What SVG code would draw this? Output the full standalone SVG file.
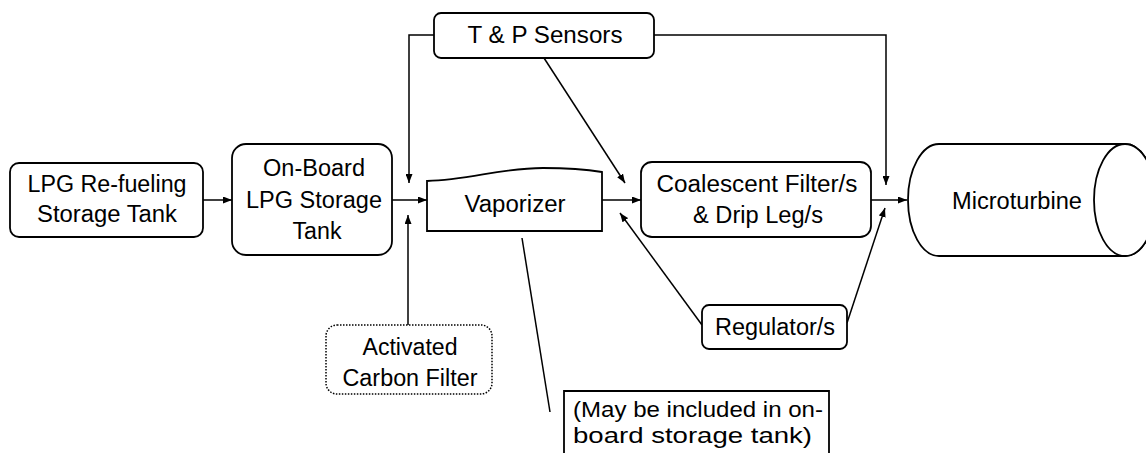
<svg xmlns="http://www.w3.org/2000/svg" width="1146" height="453" viewBox="0 0 1146 453">
<style>
.box{fill:#fff;stroke:#000;stroke-width:1.8}
.dot{fill:#fff;stroke:#000;stroke-width:1.5;stroke-dasharray:1.5 1.5}
.t{font-family:"Liberation Sans",Arial,sans-serif;font-size:23px;fill:#000;text-anchor:middle}
.tl{font-family:"Liberation Sans",Arial,sans-serif;font-size:22px;fill:#000}
.c{fill:none;stroke:#000;stroke-width:1.5}
</style>
<defs>
<marker id="ah" markerWidth="9" markerHeight="7" refX="9" refY="3.5" orient="auto" markerUnits="userSpaceOnUse">
<path d="M0,0 L9,3.5 L0,7 Z" fill="#000"/>
</marker>
</defs>
<rect width="1146" height="453" fill="#fff"/>
<g id="connectors">
<line class="c" x1="203" y1="200" x2="232" y2="200" marker-end="url(#ah)"/>
<line class="c" x1="392" y1="200" x2="427" y2="200" marker-end="url(#ah)"/>
<polyline class="c" points="434,35 409,35 409,183" marker-end="url(#ah)"/>
<line class="c" x1="408" y1="325" x2="408" y2="215" marker-end="url(#ah)"/>
<line class="c" x1="602" y1="200" x2="641" y2="200" marker-end="url(#ah)"/>
<line class="c" x1="544" y1="58" x2="625" y2="183" marker-end="url(#ah)"/>
<line class="c" x1="702" y1="325" x2="620" y2="213" marker-end="url(#ah)"/>
<line class="c" x1="871" y1="200" x2="907" y2="200" marker-end="url(#ah)"/>
<polyline class="c" points="654,35 886,35 886,185" marker-end="url(#ah)"/>
<line class="c" x1="847" y1="323" x2="885" y2="208" marker-end="url(#ah)"/>
<line class="c" x1="522" y1="238" x2="550" y2="412"/>
</g>
<g id="refuel">
<rect class="box" x="10" y="163" width="193" height="74" rx="9"/>
<text class="t" x="107" y="192" textLength="159" lengthAdjust="spacingAndGlyphs">LPG Re-fueling</text>
<text class="t" x="107" y="222" textLength="140" lengthAdjust="spacingAndGlyphs">Storage Tank</text>
</g>
<g id="onboard">
<rect class="box" x="232" y="144" width="160" height="111" rx="14"/>
<text class="t" x="314" y="176" textLength="102" lengthAdjust="spacingAndGlyphs">On-Board</text>
<text class="t" x="314" y="208" textLength="136" lengthAdjust="spacingAndGlyphs">LPG Storage</text>
<text class="t" x="317" y="239" textLength="49" lengthAdjust="spacingAndGlyphs">Tank</text>
</g>
<g id="sensors">
<rect class="box" x="434" y="13" width="220" height="45" rx="7"/>
<text class="t" x="545" y="43" textLength="155" lengthAdjust="spacingAndGlyphs">T &amp; P Sensors</text>
</g>
<g id="vaporizer">
<path class="box" d="M427,181 C470,180 500,168 543,168 C570,168 590,170 602,172 L602,231 L427,231 Z"/>
<text class="t" x="515" y="212" textLength="101" lengthAdjust="spacingAndGlyphs">Vaporizer</text>
</g>
<g id="carbon">
<rect class="dot" x="326" y="325" width="166" height="69" rx="11"/>
<text class="t" x="410" y="355" textLength="95" lengthAdjust="spacingAndGlyphs">Activated</text>
<text class="t" x="410" y="386" textLength="135" lengthAdjust="spacingAndGlyphs">Carbon Filter</text>
</g>
<g id="coalescent">
<rect class="box" x="641" y="162" width="230" height="75" rx="11"/>
<text class="t" x="757" y="192" textLength="201" lengthAdjust="spacingAndGlyphs">Coalescent Filter/s</text>
<text class="t" x="758" y="223" textLength="130" lengthAdjust="spacingAndGlyphs">&amp; Drip Leg/s</text>
</g>
<g id="regulator">
<rect class="box" x="702" y="305" width="145" height="44" rx="7"/>
<text class="t" x="775" y="335" textLength="120" lengthAdjust="spacingAndGlyphs">Regulator/s</text>
</g>
<g id="microturbine">
<path class="box" d="M939,144 L1125,144 A31,56 0 0 1 1125,256 L939,256 A31,56 0 0 1 939,144 Z"/>
<ellipse class="box" cx="1125" cy="200" rx="31" ry="56" fill="none"/>
<text class="t" x="1017" y="209" textLength="130" lengthAdjust="spacingAndGlyphs">Microturbine</text>
</g>
<g id="note">
<path class="box" d="M564,455 L564,391 L829,391 L829,455"/>
<text class="tl" x="573" y="417" textLength="250" lengthAdjust="spacingAndGlyphs">(May be included in on-</text>
<text class="tl" x="573" y="443" textLength="239" lengthAdjust="spacingAndGlyphs">board storage tank)</text>
</g>
</svg>
